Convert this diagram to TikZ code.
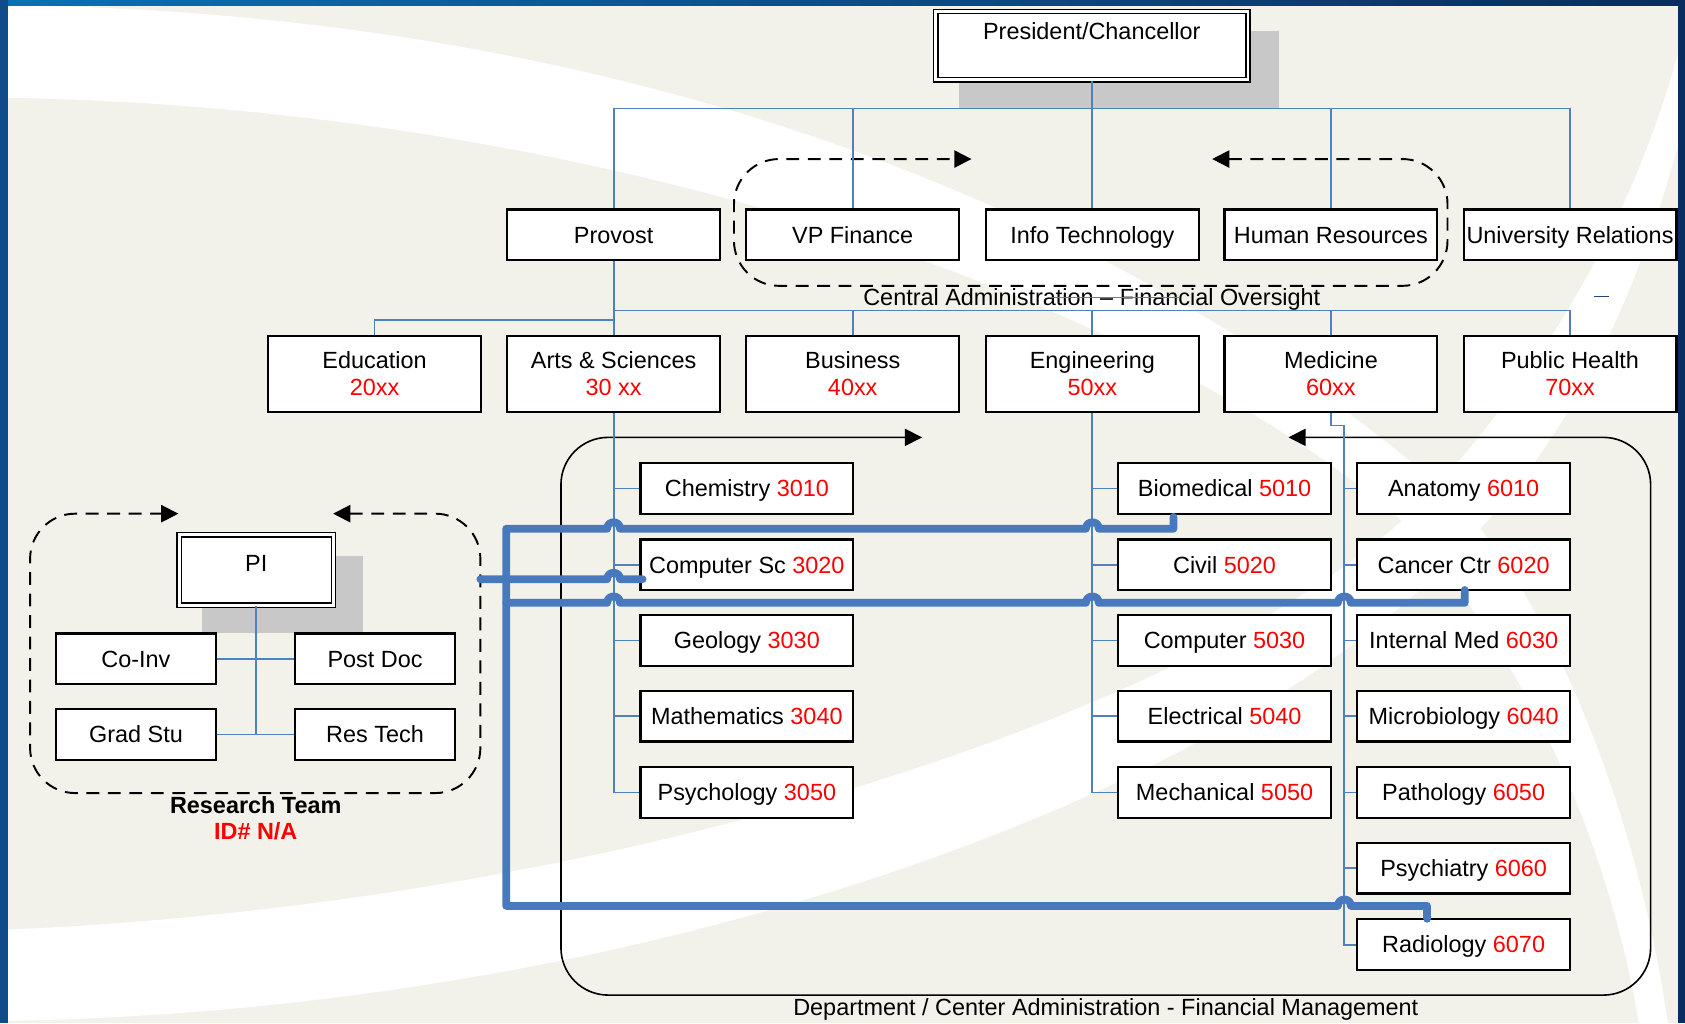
\documentclass[tikz,border=0pt]{standalone}
\usepackage{fontspec}
\setmainfont{Liberation Sans}
\usetikzlibrary{arrows.meta}
\definecolor{bgcol}{RGB}{242,242,235}
\definecolor{conncol}{RGB}{79,129,189}
\definecolor{thickcol}{RGB}{72,120,190}
\definecolor{shadowgray}{RGB}{200,200,200}
\definecolor{framelight}{RGB}{10,112,182}
\definecolor{framemid}{RGB}{16,76,138}
\definecolor{framedark}{RGB}{10,45,95}
\definecolor{numred}{RGB}{255,0,0}
\definecolor{dashblue}{RGB}{30,70,130}
\newcommand{\rnum}[1]{\textcolor{numred}{#1}}
\begin{document}
\begin{tikzpicture}[x=0.5pt,y=-0.5pt,
  txt/.style={font=\fontsize{10.9}{12.5}\selectfont},
  basebox/.style={draw=black, fill=white, line width=1pt, inner sep=0pt, minimum width=99pt, minimum height=23.5pt, align=center, txt},
  box/.style={basebox, text height=8pt, text depth=0.2pt},
  tallbox/.style={basebox, minimum height=35pt},
  smallbox/.style={box, minimum width=74.5pt},
  dblbox/.style={draw=black, fill=white, double=white, line width=0.7pt, double distance=1.3pt, inner sep=0pt, txt, text height=8pt},
  conn/.style={draw=conncol, line width=0.85pt},
  thickln/.style={draw=thickcol, line width=3.6pt, line cap=round, line join=round},
  dashbox/.style={draw=black, line width=0.9pt, dash pattern=on 6pt off 4pt, rounded corners=21pt},
  tip/.style={{Triangle[length=8pt,width=8pt]}-{Triangle[length=8pt,width=8pt]}},
  lbl/.style={txt, inner sep=0pt, text height=8pt, text depth=2.2pt}
]
\useasboundingbox (0,0) rectangle (1568,952);
% background
\fill[bgcol] (0,0) rectangle (1568,952);
\fill[white] (7,5) .. controls (500,10) and (1000,150) .. (1360,470)
  .. controls (1470,600) and (1530,800) .. (1552,952) -- (1525,952)
  .. controls (1500,800) and (1430,620) .. (1300,480)
  .. controls (1050,270) and (550,100) .. (7,91) -- cycle;
\fill[white] (7,865) .. controls (600,840) and (1150,650) .. (1330,460)
  .. controls (1450,330) and (1530,180) .. (1568,25) -- (1568,110)
  .. controls (1530,260) and (1470,400) .. (1360,510)
  .. controls (1150,740) and (600,940) .. (7,950) -- cycle;
\shade[left color=framelight, right color=framedark] (0,0) rectangle (1568,5);
\fill[framemid] (0,0) rectangle (7,952);
\fill[framedark] (1561,0) rectangle (1568,952);

% shadows
\fill[shadowgray] (892,29) rectangle (1190,101);
\fill[shadowgray] (188,517) rectangle (338,589);

% group frames
\draw[dashbox, tip] (1128,148) -- (1347,148) -- (1347,266) -- (683,266) -- (683,148) -- (904,148);
\draw[dashbox, tip] (310,478) -- (447,478) -- (447,738) -- (28,738) -- (28,478) -- (166,478);
\draw[draw=black, line width=0.75pt, rounded corners=22pt, tip] (1199,407) -- (1536,407) -- (1536,926) -- (522,926) -- (522,407) -- (858,407);

% nodes
\node[dblbox, minimum width=145.3pt, minimum height=31.8pt, text depth=13.5pt] (pres) at (1016,42.5) {President/Chancellor};

\node[box] (provost) at (571,218.5) {Provost};
\node[box] (vpfin) at (793.5,218.5) {VP Finance};
\node[box] (infotech) at (1016.5,218.5) {Info Technology};
\node[box] (hr) at (1238.5,218.5) {Human Resources};
\node[box] (univ) at (1461,218.5) {University Relations};

\node[tallbox] (edu) at (348.5,348) {Education\\\rnum{20xx}};
\node[tallbox] (arts) at (571,348) {Arts \& Sciences\\\rnum{30 xx}};
\node[tallbox] (business) at (793.5,348) {Business\\\rnum{40xx}};
\node[tallbox] (eng) at (1016.5,348) {Engineering\\\rnum{50xx}};
\node[tallbox] (med) at (1238.5,348) {Medicine\\\rnum{60xx}};
\node[tallbox] (ph) at (1461,348) {Public Health\\\rnum{70xx}};

\node[box] (chem) at (695,454.5) {Chemistry \rnum{3010}};
\node[box] (compsc) at (695,525.5) {Computer Sc \rnum{3020}};
\node[box] (geol) at (695,596) {Geology \rnum{3030}};
\node[box] (math) at (695,666.5) {Mathematics \rnum{3040}};
\node[box] (psych) at (695,737.5) {Psychology \rnum{3050}};

\node[box] (bio) at (1139.5,454.5) {Biomedical \rnum{5010}};
\node[box] (civil) at (1139.5,525.5) {Civil \rnum{5020}};
\node[box] (compe) at (1139.5,596) {Computer \rnum{5030}};
\node[box] (elec) at (1139.5,666.5) {Electrical \rnum{5040}};
\node[box] (mech) at (1139.5,737.5) {Mechanical \rnum{5050}};

\node[box] (anat) at (1362,454.5) {Anatomy \rnum{6010}};
\node[box] (cancer) at (1362,525.5) {Cancer Ctr \rnum{6020}};
\node[box] (intmed) at (1362,596) {Internal Med \rnum{6030}};
\node[box] (micro) at (1362,666.5) {Microbiology \rnum{6040}};
\node[box] (path) at (1362,737.5) {Pathology \rnum{6050}};
\node[box] (psychi) at (1362,808) {Psychiatry \rnum{6060}};
\node[box] (radio) at (1362,879) {Radiology \rnum{6070}};

\node[dblbox, minimum width=71.8pt, minimum height=32.8pt, text depth=7pt] (pi) at (238.5,530.5) {PI};
\node[smallbox] (coinv) at (126.5,613) {Co-Inv};
\node[smallbox] (postdoc) at (349,613) {Post Doc};
\node[smallbox] (grad) at (126.5,683.5) {Grad Stu};
\node[smallbox] (restech) at (349,683.5) {Res Tech};

% thin connectors
\coordinate (bus1) at (1016,101);
\draw[conn] (pres.south) -- (pres.south |- bus1);
\draw[conn] (provost.north) |- (univ.north |- bus1) -- (univ.north);
\foreach \n in {vpfin,infotech,hr} \draw[conn] (\n.north) -- (\n.north |- bus1);

\coordinate (bus2) at (1016,289);
\coordinate (bus3) at (571,298);
\draw[conn] (provost.south) -- (arts.north);
\draw[conn] (arts.north |- bus2) -| (ph.north);
\foreach \n in {business,eng,med} \draw[conn] (\n.north) -- (\n.north |- bus2);
\draw[conn] (bus3) -| (edu.north);

\draw[conn] (arts.south) |- (psych.west);
\foreach \n in {chem,compsc,geol,math} \draw[conn] (\n.west) -- (\n.west -| arts.south);
\draw[conn] (eng.south) |- (mech.west);
\foreach \n in {bio,civil,compe,elec} \draw[conn] (\n.west) -- (\n.west -| eng.south);
\coordinate (medj) at (1251,396);
\draw[conn] (med.south) |- (medj) |- (radio.west);
\foreach \n in {anat,cancer,intmed,micro,path,psychi} \draw[conn] (\n.west) -- (\n.west -| medj);

\draw[conn] (pi.south) -- (pi.south |- grad.east);
\draw[conn] (coinv.east) -- (postdoc.west);
\draw[conn] (grad.east) -- (restech.west);

% thick connectors with hops
\coordinate (t1s) at (1092,481);
\coordinate (t4e) at (1328,855);
\coordinate (t2s) at (447,539);
\coordinate (t2e) at (598,539);
\coordinate (t3s) at (471,561);
\coordinate (t3e) at (1363,549);
\draw[thickln] (t1s) -- (1092,492) -- (1022.5,492) .. controls (1022.5,484) and (1010.5,484) .. (1010.5,492)
  -- (577,492) .. controls (577,484) and (565,484) .. (565,492) -- (471,492) -- (471,843)
  -- (1245,843) .. controls (1245,835) and (1257,835) .. (1257,843) -- (1328,843) -- (t4e);
\draw[thickln] (t2s) -- (565,539) .. controls (565,531) and (577,531) .. (577,539) -- (t2e);
\draw[thickln] (t3s) -- (565,561) .. controls (565,553) and (577,553) .. (577,561)
  -- (1010.5,561) .. controls (1010.5,553) and (1022.5,553) .. (1022.5,561)
  -- (1245,561) .. controls (1245,553) and (1257,553) .. (1257,561) -- (1363,561) -- (t3e);

% labels
\node[lbl] (cafo) at (1016,278.5) {Central Administration – Financial Oversight};
\node[lbl] (dcafm) at (1029,939) {Department / Center Administration - Financial Management};
\node[lbl] (rteam) at (238,751) {\textbf{Research Team}};
\node[lbl] (rid) at (238,775) {\textbf{\rnum{ID\# N/A}}};

\coordinate (s1) at (975,277);
\coordinate (s2) at (1098,277);
\draw[conn, line width=0.6pt] (s1) -- (s2);
\coordinate (d1) at (1483,276);
\coordinate (d2) at (1497,276);
\draw[dashblue, line width=0.6pt] (d1) -- (d2);
\end{tikzpicture}
\end{document}
